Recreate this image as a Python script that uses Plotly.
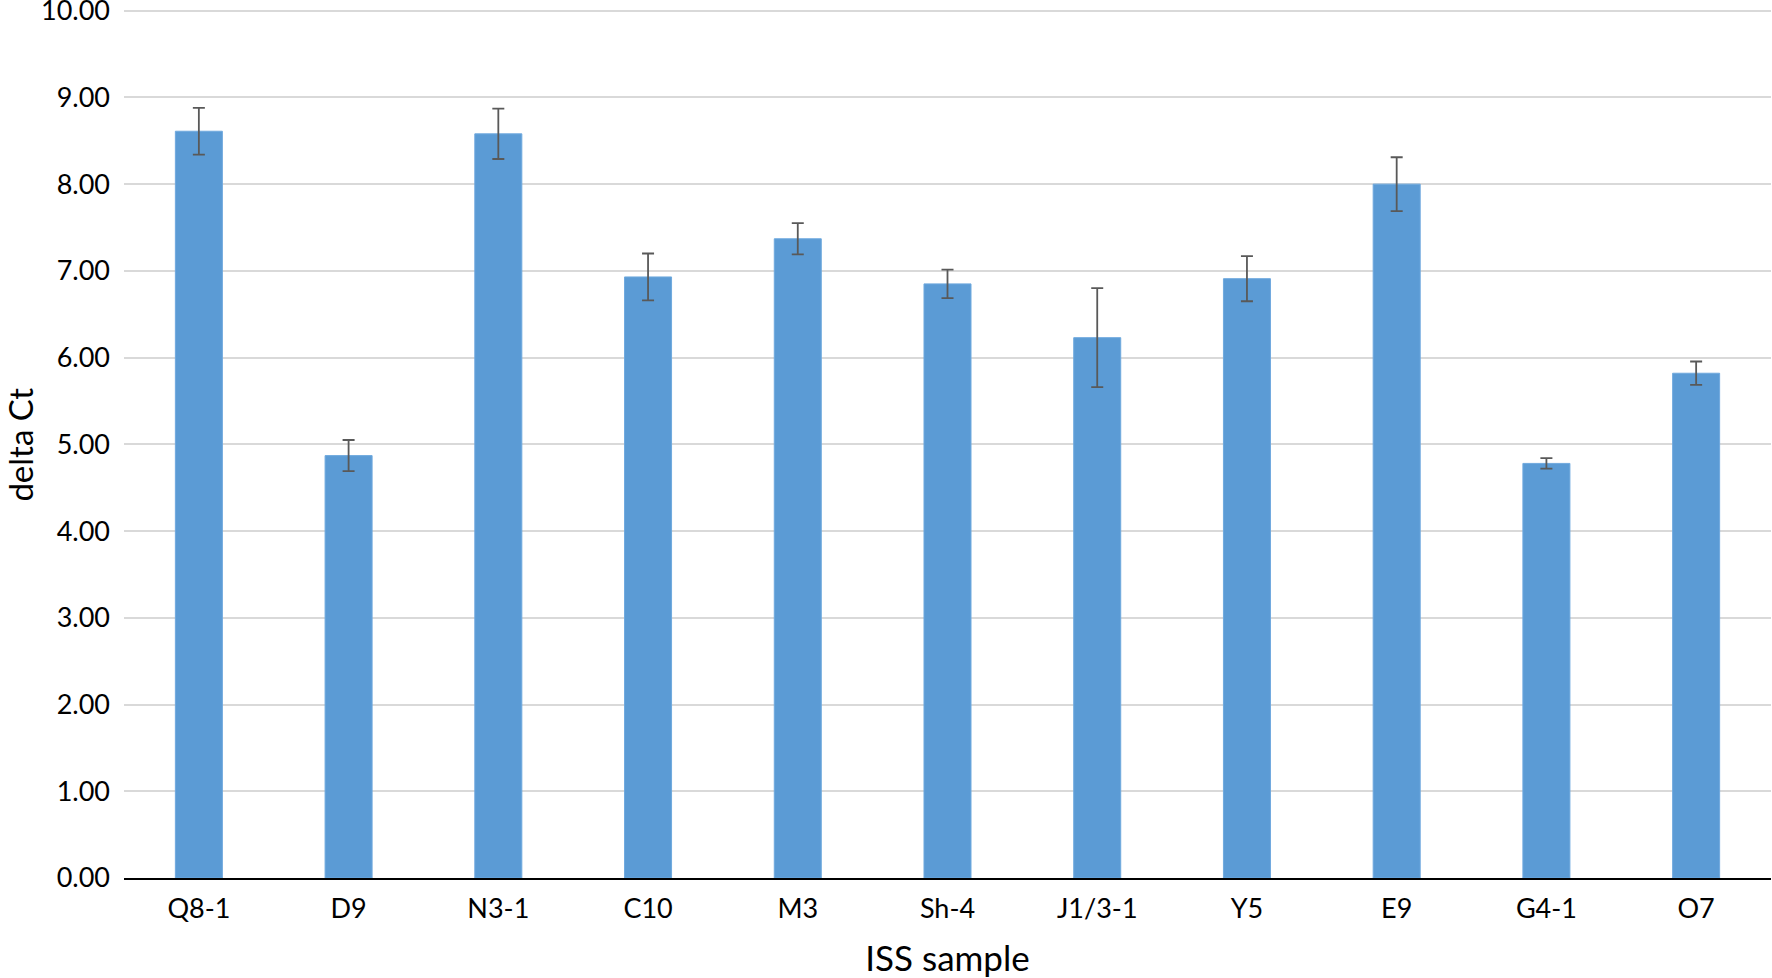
import plotly.graph_objects as go

samples = ["Q8-1", "D9", "N3-1", "C10", "M3", "Sh-4", "J1/3-1", "Y5", "E9", "G4-1", "O7"]
delta_ct = [8.61, 4.87, 8.58, 6.93, 7.37, 6.85, 6.23, 6.91, 8.00, 4.78, 5.82]
errors = [0.27, 0.18, 0.29, 0.27, 0.18, 0.165, 0.57, 0.26, 0.31, 0.06, 0.135]
y_ticks = [0, 1, 2, 3, 4, 5, 6, 7, 8, 9, 10]

FONT = "Lato, Carlito, Calibri, sans-serif"

fig = go.Figure(go.Bar(
    x=samples, y=delta_ct,
    marker=dict(color="#5B9BD5", line=dict(color="#6FA9DE", width=1)),
    error_y=dict(type="data", array=errors, visible=True, color="#595959", thickness=1.8, width=6),
))

fig.update_layout(
    width=1772, height=978,
    margin=dict(l=124, r=1, t=2, b=100),
    plot_bgcolor="white", paper_bgcolor="white",
    bargap=0.686,
    showlegend=False,
    font=dict(family=FONT, color="#000000"),
)
fig.update_xaxes(
    title=dict(text="ISS sample", font=dict(size=35, family=FONT), standoff=24),
    tickfont=dict(size=27, family=FONT),
    ticklabelstandoff=6,
    showline=True, linecolor="#000000", linewidth=1.5,
    ticks="", showgrid=False, automargin=False,
)
fig.update_yaxes(
    range=[0, 10.1],
    tickvals=y_ticks,
    ticktext=[f"{v:.2f}" for v in y_ticks],
    tickfont=dict(size=27, family=FONT),
    ticklabelstandoff=13,
    ticklabeloverflow="allow",
    showgrid=True, gridcolor="#D9D9D9", gridwidth=1.5,
    zeroline=False, showline=False, ticks="", automargin=False,
)
fig.add_annotation(
    text="delta Ct", textangle=-90,
    xref="paper", yref="paper", x=-0.063, y=0.495,
    xanchor="center", yanchor="middle", showarrow=False,
    font=dict(size=33, family=FONT, color="#000000"),
)

fig.write_html("out.html", config={"displayModeBar": False},
               post_script="document.body.style.margin='0';")
